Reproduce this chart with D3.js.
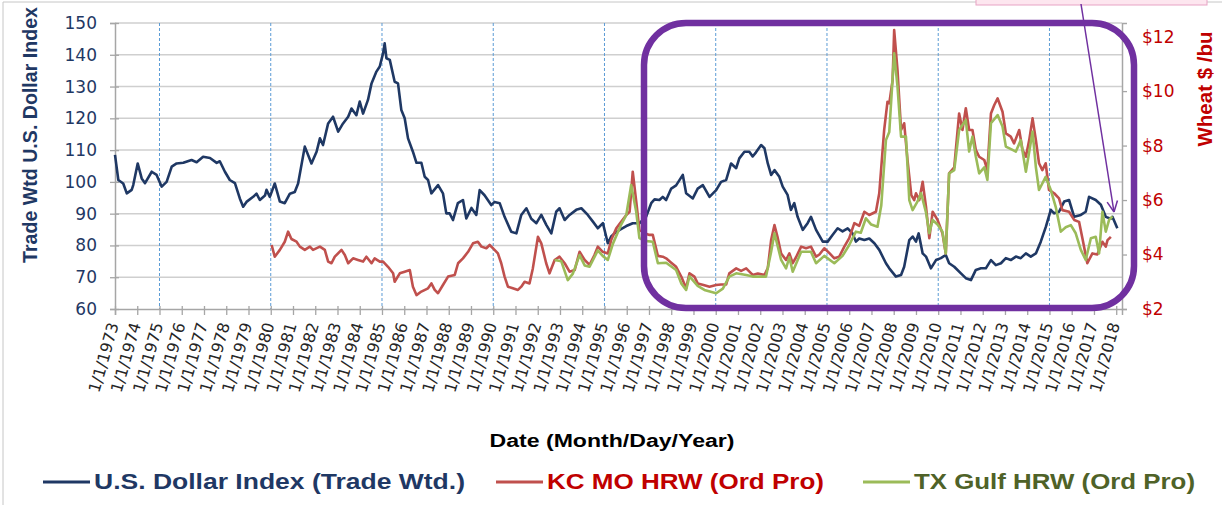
<!DOCTYPE html>
<html><head><meta charset="utf-8">
<script src="https://cdn.jsdelivr.net/npm/d3@7/dist/d3.min.js"></script>
<style>html,body{margin:0;padding:0;background:#fff;}svg{display:block;}</style>
</head><body><svg id="c" width="1222" height="505"></svg>
<script>
// ---------- DATA ----------
const dollarYears = [1973.00,1973.15,1973.37,1973.53,1973.75,1973.82,1974.02,1974.20,1974.35,1974.65,1974.87,1975.10,1975.32,1975.55,1975.77,1976.07,1976.44,1976.67,1976.96,1977.27,1977.57,1977.71,1977.94,1978.16,1978.39,1978.61,1978.76,1978.91,1979.21,1979.36,1979.51,1979.74,1979.81,1979.96,1980.18,1980.41,1980.63,1980.86,1981.08,1981.23,1981.53,1981.83,1982.06,1982.21,1982.35,1982.58,1982.80,1983.03,1983.25,1983.48,1983.63,1983.85,1984.00,1984.15,1984.37,1984.53,1984.75,1984.90,1985.05,1985.12,1985.20,1985.35,1985.57,1985.72,1985.87,1986.02,1986.17,1986.39,1986.55,1986.77,1986.92,1987.07,1987.22,1987.52,1987.74,1987.89,1988.04,1988.19,1988.41,1988.64,1988.79,1989.02,1989.24,1989.39,1989.61,1989.91,1990.06,1990.29,1990.51,1990.81,1991.04,1991.26,1991.49,1991.71,1991.94,1992.16,1992.39,1992.61,1992.83,1992.98,1993.21,1993.43,1993.73,1993.96,1994.25,1994.48,1994.70,1994.93,1995.15,1995.30,1995.45,1995.68,1995.98,1996.27,1996.57,1996.87,1997.10,1997.25,1997.47,1997.62,1997.77,1998.00,1998.22,1998.52,1998.67,1998.97,1999.19,1999.42,1999.72,2000.02,2000.24,2000.47,2000.69,2000.92,2001.06,2001.29,2001.51,2001.66,2001.81,2002.04,2002.19,2002.34,2002.49,2002.64,2002.86,2003.01,2003.23,2003.38,2003.53,2003.68,2003.91,2004.13,2004.28,2004.51,2004.81,2005.03,2005.25,2005.48,2005.70,2005.93,2006.15,2006.30,2006.45,2006.68,2006.90,2007.13,2007.35,2007.65,2007.80,2008.10,2008.33,2008.47,2008.70,2008.85,2009.00,2009.12,2009.30,2009.45,2009.67,2009.90,2010.12,2010.34,2010.49,2010.72,2011.02,2011.24,2011.47,2011.69,2011.92,2012.14,2012.37,2012.59,2012.82,2013.04,2013.26,2013.49,2013.71,2013.94,2014.16,2014.39,2014.61,2014.84,2015.06,2015.21,2015.43,2015.66,2015.88,2016.11,2016.41,2016.63,2016.78,2017.08,2017.31,2017.53,2017.76,2017.83,2018.05];
const dollarValues = [108.5,100.6,99.5,96.4,97.5,99.0,105.8,101.1,99.6,103.2,102.2,98.5,100.0,104.8,105.8,106.0,106.9,106.2,107.9,107.5,106.0,106.5,103.2,100.6,99.6,94.8,92.2,93.7,95.3,96.3,94.3,95.7,97.5,95.3,99.5,93.8,93.3,96.3,96.8,99.5,111.1,105.8,109.5,113.7,111.6,118.4,120.5,115.8,118.4,120.5,123.1,121.0,125.3,121.5,125.8,131.0,134.7,136.3,140.5,143.6,138.9,138.4,131.5,131.0,122.6,120.0,113.7,109.5,106.0,106.0,101.6,100.6,96.4,99.0,96.4,90.1,90.1,88.0,93.3,94.3,88.5,91.8,89.6,97.4,95.8,92.7,93.7,93.3,89.0,84.3,83.8,89.6,91.7,88.4,87.0,89.6,86.4,83.8,90.6,91.7,88.0,89.6,91.2,91.7,89.6,87.5,85.4,87.0,80.7,82.8,83.8,84.9,86.1,87.0,87.0,89.0,93.3,94.5,94.3,95.3,94.3,97.9,98.9,102.2,96.4,94.8,97.9,99.0,95.3,97.4,100.0,100.6,105.8,104.3,107.4,109.5,109.5,108.0,109.3,111.6,110.6,105.8,102.2,103.7,101.6,98.5,95.9,91.2,93.3,89.0,84.9,87.0,89.0,84.9,81.2,81.2,83.3,85.4,84.4,85.4,83.8,81.2,82.2,81.7,82.2,80.7,78.6,74.4,72.8,70.2,70.7,73.3,81.7,82.8,81.2,83.8,77.5,76.5,72.8,75.4,76.0,77.0,74.4,73.3,71.2,69.7,69.1,72.3,72.8,72.8,75.4,73.8,74.4,76.0,75.4,76.5,76.0,77.5,76.5,77.5,81.2,85.9,91.2,90.1,90.6,93.8,94.3,89.0,89.6,90.6,95.3,94.3,92.8,89.0,88.4,89.0,85.4];

const kcYears = [1980.04,1980.18,1980.41,1980.63,1980.78,1980.93,1981.16,1981.31,1981.53,1981.76,1981.90,1982.21,1982.43,1982.58,1982.73,1982.88,1983.18,1983.33,1983.48,1983.70,1983.92,1984.15,1984.30,1984.53,1984.67,1984.90,1985.05,1985.27,1985.50,1985.57,1985.80,1986.02,1986.25,1986.39,1986.55,1986.77,1987.07,1987.22,1987.37,1987.52,1987.74,1987.97,1988.27,1988.42,1988.64,1988.87,1989.09,1989.31,1989.47,1989.69,1989.84,1990.06,1990.21,1990.36,1990.51,1990.66,1990.88,1991.11,1991.26,1991.41,1991.63,1991.78,1992.01,1992.16,1992.38,1992.53,1992.76,1992.98,1993.21,1993.43,1993.66,1993.88,1994.11,1994.33,1994.55,1994.70,1994.92,1995.15,1995.30,1995.53,1995.75,1995.98,1996.13,1996.27,1996.42,1996.57,1996.80,1997.02,1997.17,1997.40,1997.62,1997.77,1998.00,1998.22,1998.45,1998.67,1998.82,1999.04,1999.19,1999.45,1999.72,2000.02,2000.24,2000.47,2000.61,2000.92,2001.14,2001.37,2001.66,2001.89,2002.19,2002.34,2002.49,2002.64,2002.79,2002.94,2003.16,2003.31,2003.46,2003.61,2003.84,2004.06,2004.28,2004.51,2004.66,2004.88,2005.11,2005.33,2005.55,2005.78,2006.00,2006.23,2006.45,2006.68,2006.90,2007.20,2007.35,2007.57,2007.72,2007.80,2007.95,2008.02,2008.17,2008.33,2008.47,2008.62,2008.79,2008.92,2009.00,2009.15,2009.30,2009.45,2009.60,2009.75,2009.97,2010.19,2010.34,2010.49,2010.72,2010.94,2011.09,2011.24,2011.39,2011.54,2011.69,2011.84,2012.07,2012.21,2012.37,2012.52,2012.67,2012.89,2013.04,2013.26,2013.41,2013.64,2013.79,2013.94,2014.09,2014.24,2014.39,2014.53,2014.68,2014.83,2014.98,2015.21,2015.43,2015.58,2015.88,2016.11,2016.33,2016.48,2016.70,2016.93,2017.15,2017.38,2017.53,2017.61,2017.76];
const kcValues = [4.35,3.92,4.17,4.47,4.84,4.57,4.47,4.29,4.17,4.29,4.17,4.29,4.17,3.74,3.68,3.92,4.17,3.98,3.68,3.86,3.80,3.74,3.92,3.68,3.86,3.74,3.74,3.55,3.31,3.00,3.31,3.37,3.43,2.82,2.51,2.64,2.76,2.94,2.70,2.58,2.88,3.19,3.25,3.68,3.86,4.10,4.41,4.47,4.29,4.23,4.35,4.17,4.04,3.68,3.19,2.82,2.76,2.70,2.82,3.00,2.94,3.49,4.65,4.41,3.68,3.31,3.80,3.92,3.68,3.37,3.43,4.10,3.80,3.62,3.98,4.29,4.10,4.04,4.53,4.96,5.20,5.45,5.57,7.04,6.00,4.90,4.78,4.72,4.72,3.95,3.92,3.86,3.70,3.55,3.19,2.76,3.31,3.19,2.94,2.88,2.82,2.88,2.90,2.90,3.31,3.49,3.40,3.49,3.25,3.30,3.25,3.50,4.53,5.08,4.60,4.04,3.80,4.04,3.68,3.90,4.29,4.23,4.29,3.92,4.00,4.23,4.05,3.86,3.92,4.29,4.60,5.15,5.05,5.57,5.45,5.57,6.25,8.57,9.61,9.55,10.40,12.24,10.77,8.57,8.82,7.47,6.18,6.00,6.25,6.00,6.67,5.76,4.60,5.57,5.27,4.78,4.04,6.98,7.20,9.18,8.57,9.37,8.57,8.57,7.84,7.59,7.47,7.10,9.18,9.49,9.73,9.24,8.45,8.33,8.08,8.57,7.84,7.59,8.20,9.00,8.20,7.35,7.10,7.35,6.37,6.25,6.06,5.63,5.57,5.27,5.20,4.60,3.68,4.04,4.00,4.47,4.29,4.53,4.65];

const txYears = [1992.76,1993.06,1993.35,1993.58,1993.88,1994.11,1994.33,1994.70,1994.92,1995.15,1995.38,1995.75,1995.98,1996.20,1996.42,1996.57,1996.80,1997.17,1997.40,1997.77,1998.22,1998.45,1998.67,1998.82,1999.19,1999.49,2000.02,2000.32,2000.61,2000.92,2001.37,2001.66,2002.26,2002.49,2002.64,2002.94,2003.16,2003.31,2003.46,2003.84,2004.28,2004.51,2004.88,2005.33,2005.70,2006.00,2006.30,2006.52,2006.75,2006.99,2007.27,2007.44,2007.65,2007.80,2008.02,2008.17,2008.33,2008.55,2008.70,2008.85,2009.07,2009.23,2009.45,2009.60,2009.75,2009.97,2010.19,2010.34,2010.49,2010.72,2010.94,2011.24,2011.39,2011.54,2011.69,2011.84,2012.07,2012.21,2012.37,2012.67,2012.89,2013.04,2013.34,2013.49,2013.71,2013.94,2014.24,2014.39,2014.53,2014.83,2015.06,2015.28,2015.51,2015.73,2015.96,2016.18,2016.41,2016.63,2016.86,2017.08,2017.23,2017.38,2017.53,2017.68,2017.83];
const txValues = [3.80,3.75,3.06,3.30,3.98,3.60,3.55,4.15,3.95,3.80,4.40,5.10,5.45,6.55,5.60,4.60,4.50,4.47,3.68,3.70,3.43,2.94,2.70,3.20,2.85,2.70,2.58,2.75,3.19,3.31,3.25,3.19,3.19,4.10,4.78,3.80,3.49,3.90,3.37,4.10,4.10,3.68,3.95,3.68,3.95,4.35,4.84,4.80,5.33,5.10,5.02,5.80,8.20,8.50,11.39,10.16,8.33,8.33,6.00,5.63,5.95,6.25,5.55,4.78,5.27,5.10,4.84,4.04,6.98,7.10,8.57,8.94,7.78,8.33,7.60,6.98,7.20,6.74,8.82,9.12,8.70,7.96,7.84,7.78,8.20,7.04,8.51,7.20,6.37,6.85,6.37,5.75,4.84,5.00,5.08,4.78,4.17,3.80,4.60,4.65,4.04,5.57,4.84,5.27,5.40];

const leftTicks = [60,70,80,90,100,110,120,130,140,150];
const rightTicks = [2,4,6,8,10,12];
const yearTicks = d3.range(1973, 2019);
const markerYears = [1975,1980,1985,1990,1995,2000,2005,2010,2015];
const seriesNames = ["U.S. Dollar Index (Trade Wtd.)","KC MO HRW (Ord Pro)","TX Gulf HRW (Ord Pro)"];

// ---------- LAYOUT ----------
const svg = d3.select("#c");
const L = 115, R = 1122, T = 23, B = 309;
const x = d3.scaleLinear().domain([1973, 2018.26]).range([L, R]);
const yL = d3.scaleLinear().domain([60, 150]).range([B, T]);
const yR = d3.scaleLinear().domain([2, 12.5]).range([B, T]);

const NAVY = "#1f3864", RED = "#c0504d", GREEN = "#9bbb59";

// outer border
svg.append("path").attr("d", "M3,505 L3,2 L1222,2").attr("fill","none").attr("stroke","#c6c6c6").attr("stroke-width",1);

// horizontal gridlines
svg.append("g").selectAll("line").data(leftTicks.slice(1)).join("line")
  .attr("x1", L).attr("x2", R).attr("y1", d=>yL(d)).attr("y2", d=>yL(d))
  .attr("stroke", "#cfcfcf").attr("stroke-width", 1.5);

// dashed vertical marker lines
svg.append("g").selectAll("line").data(markerYears).join("line")
  .attr("x1", d=>x(d)).attr("x2", d=>x(d)).attr("y1", T).attr("y2", B)
  .attr("stroke", "#5b9bd5").attr("stroke-width", 1).attr("stroke-dasharray", "3,2");

// axes
const axL = svg.append("g").attr("transform", `translate(${L},0)`)
  .call(d3.axisLeft(yL).tickValues(leftTicks).tickSize(5).tickPadding(13));
const axR = svg.append("g").attr("transform", `translate(${R},0)`)
  .call(d3.axisRight(yR).tickValues(rightTicks).tickSize(5).tickPadding(15).tickFormat(d=>"$"+d));
const axB = svg.append("g").attr("transform", `translate(0,${B})`)
  .call(d3.axisBottom(x).tickValues(yearTicks).tickSize(6).tickFormat(d=>"1/1/"+d));
[axL, axR, axB].forEach(g => {
  g.select(".domain").attr("stroke", "#a6a6a6").attr("stroke-width", 1.5);
  g.selectAll(".tick line").attr("stroke", "#a6a6a6").attr("stroke-width", 1.3);
});
axL.selectAll(".tick line").attr("x1", 4);
axB.selectAll(".tick line").attr("y1", -3);
axL.selectAll("text").attr("font-family","DejaVu Sans").attr("font-size",17).attr("fill",NAVY);
axR.selectAll("text").attr("font-family","DejaVu Sans").attr("font-size",17).attr("fill","#c00000");
axB.selectAll("text")
  .attr("font-family","DejaVu Sans").attr("font-size",16).attr("fill","#262626")
  .attr("text-anchor","end").attr("y",0).attr("dy","0.35em")
  .attr("transform","translate(-2,14) rotate(-74)");

// lines
const lineL = d3.line().x(d=>x(d[0])).y(d=>yL(d[1]));
const lineR = d3.line().x(d=>x(d[0])).y(d=>yR(d[1]));
svg.append("path").datum(d3.zip(dollarYears, dollarValues)).attr("d", lineL)
  .attr("fill","none").attr("stroke",NAVY).attr("stroke-width",2.6).attr("stroke-linejoin","round");
svg.append("path").datum(d3.zip(kcYears, kcValues)).attr("d", lineR)
  .attr("fill","none").attr("stroke",RED).attr("stroke-width",2.6).attr("stroke-linejoin","round");
svg.append("path").datum(d3.zip(txYears, txValues)).attr("d", lineR)
  .attr("fill","none").attr("stroke",GREEN).attr("stroke-width",2.6).attr("stroke-linejoin","round");

// purple rounded highlight frame
svg.append("rect").attr("x",644).attr("y",23).attr("width",490).attr("height",285)
  .attr("rx",42).attr("ry",42).attr("fill","none").attr("stroke","#7030a0").attr("stroke-width",6.5);

// pink callout box + arrow
svg.append("rect").attr("x",976).attr("y",-10).attr("width",231).attr("height",15)
  .attr("fill","#fde6ef").attr("stroke","#e7a3c4").attr("stroke-width",1);
const ax0 = [1081,4], ax1 = [1114,212];
svg.append("line").attr("x1",ax0[0]).attr("y1",ax0[1]).attr("x2",ax1[0]).attr("y2",ax1[1])
  .attr("stroke","#7030a0").attr("stroke-width",1.5);
const ang = Math.atan2(ax1[1]-ax0[1], ax1[0]-ax0[0]);
[0.45,-0.45].forEach(o => {
  svg.append("line").attr("x1",ax1[0]).attr("y1",ax1[1])
    .attr("x2",ax1[0]-12*Math.cos(ang+o)).attr("y2",ax1[1]-12*Math.sin(ang+o))
    .attr("stroke","#7030a0").attr("stroke-width",1.5);
});

// axis titles
svg.append("text").attr("transform","translate(37,135) rotate(-90)")
  .attr("text-anchor","middle").attr("font-family","Liberation Sans").attr("font-weight","bold")
  .attr("font-size",20).attr("fill",NAVY).attr("textLength",256).attr("lengthAdjust","spacingAndGlyphs")
  .text("Trade Wtd U.S. Dollar Index");
svg.append("text").attr("transform","translate(1212,89) rotate(-90)")
  .attr("text-anchor","middle").attr("font-family","Liberation Sans").attr("font-weight","bold")
  .attr("font-size",20).attr("fill","#c00000").attr("textLength",115).attr("lengthAdjust","spacingAndGlyphs")
  .text("Wheat $ /bu");
svg.append("text").attr("x",612).attr("y",447)
  .attr("text-anchor","middle").attr("font-family","Liberation Sans").attr("font-weight","bold")
  .attr("font-size",18).attr("fill","#000").attr("textLength",245).attr("lengthAdjust","spacingAndGlyphs")
  .text("Date (Month/Day/Year)");

// legend
const legend = [
  {name: seriesNames[0], line:[43,90], tx:94, tw:371, c:NAVY, tc:NAVY},
  {name: seriesNames[1], line:[496,543], tx:547, tw:277, c:RED, tc:"#c00000"},
  {name: seriesNames[2], line:[863,910], tx:914, tw:281, c:GREEN, tc:"#4f6228"}
];
const lg = svg.append("g");
legend.forEach(d => {
  lg.append("line").attr("x1",d.line[0]).attr("x2",d.line[1]).attr("y1",482).attr("y2",482)
    .attr("stroke",d.c).attr("stroke-width",3);
  lg.append("text").attr("x",d.tx).attr("y",489).attr("font-family","Liberation Sans").attr("font-weight","bold")
    .attr("font-size",22).attr("fill",d.tc).attr("textLength",d.tw).attr("lengthAdjust","spacingAndGlyphs")
    .text(d.name);
});
</script></body></html>
